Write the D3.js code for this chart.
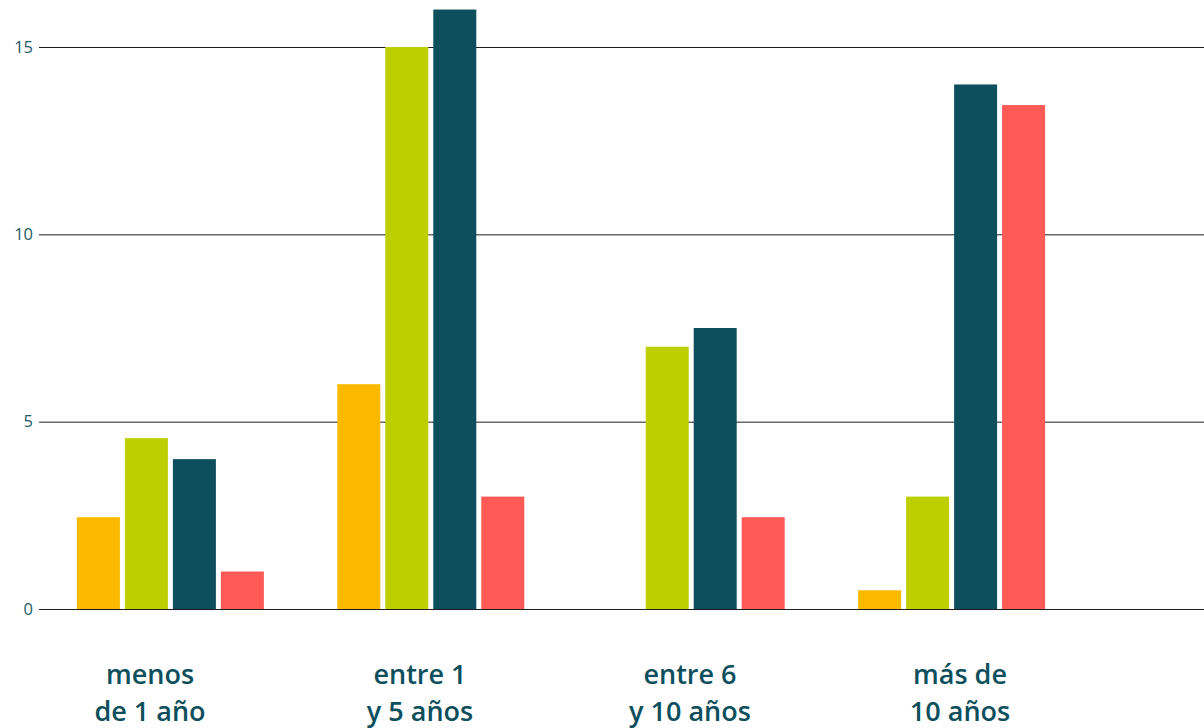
<!DOCTYPE html>
<html>
<head>
<meta charset="utf-8">
<script src="https://cdn.jsdelivr.net/npm/d3@7"></script>
<style>
  html, body { margin: 0; padding: 0; background: #fff; }
  svg { display: block; }
</style>
</head>
<body>
<svg id="chart" width="1204" height="728"></svg>
<script>
const categories = ["menos de 1 año", "entre 1 y 5 años", "entre 6 y 10 años", "más de 10 años"];
const categoryLines = [["menos", "de 1 año"], ["entre 1", "y 5 años"], ["entre 6", "y 10 años"], ["más de", "10 años"]];
const seriesNames = ["s1", "s2", "s3", "s4"];
const seriesColors = ["#FBB900", "#BDCF00", "#0D4F5C", "#FF5A55"];
const s1 = [2.45, 6.0, 0, 0.5];
const s2 = [4.56, 15.0, 7.0, 3.0];
const s3 = [4.0, 16.0, 7.5, 14.0];
const s4 = [1.0, 3.0, 2.45, 13.45];
const yTicks = [0, 5, 10, 15];

const seriesValues = [s1, s2, s3, s4];
const svg = d3.select("#chart");
const W = 1204;

const y = d3.scaleLinear().domain([0, 15]).range([609, 47]);

const x0 = d3.scaleBand().domain(categories).range([76.9, 1045.1]).paddingInner(0.282).paddingOuter(0);
const x1 = d3.scaleBand().domain(seriesNames).range([0, x0.bandwidth()]).paddingInner(5 / 48).paddingOuter(0);
const xLabel = d3.scalePoint().domain(categories).range([150, 960]);

// grid / y axis
const axisX = 39;
const gAxis = svg.append("g").attr("transform", `translate(${axisX},0)`)
  .call(d3.axisLeft(y).tickValues(yTicks).tickFormat(d3.format("d")).tickSize(-(W - axisX)).tickPadding(6));
gAxis.select(".domain").remove();
gAxis.selectAll(".tick line").attr("stroke", "#1e1e1e").attr("stroke-width", 1);
gAxis.selectAll(".tick text")
  .attr("fill", "#1f5a68")
  .style("font-family", "'Open Sans', sans-serif")
  .style("font-weight", 400)
  .style("font-size", "16.5px");

// bars
const data = [];
categories.forEach((c, i) => {
  seriesNames.forEach((s, j) => {
    data.push({ cat: c, series: s, value: seriesValues[j][i], color: seriesColors[j] });
  });
});
svg.append("g").selectAll("rect")
  .data(data.filter(d => d.value > 0))
  .join("rect")
  .attr("x", d => x0(d.cat) + x1(d.series))
  .attr("width", x1.bandwidth())
  .attr("y", d => y(d.value))
  .attr("height", d => y(0) - y(d.value))
  .attr("fill", d => d.color);

// category labels
const gLab = svg.append("g");
categories.forEach((c, i) => {
  const t = gLab.append("text")
    .attr("x", xLabel(c))
    .attr("y", 684)
    .attr("text-anchor", "middle")
    .attr("fill", "#0D4F5C")
    .style("font-family", "'Open Sans', sans-serif")
    .style("font-weight", 600)
    .style("font-size", "27px");
  categoryLines[i].forEach((ln, k) => {
    t.append("tspan").attr("x", xLabel(c)).attr("dy", k === 0 ? 0 : 37).text(ln);
  });
});
</script>
</body>
</html>
